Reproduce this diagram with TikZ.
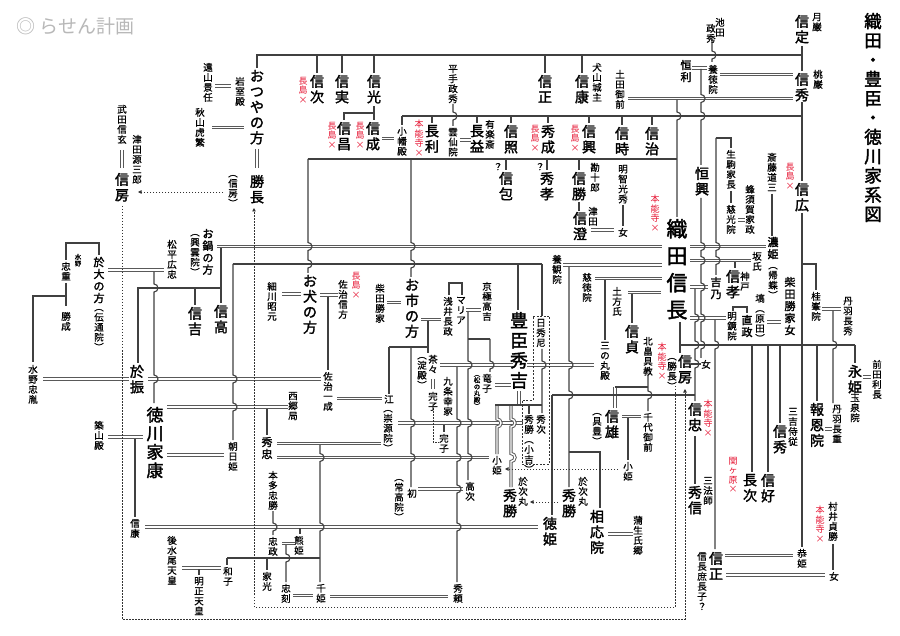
\documentclass[tikz,border=0pt]{standalone}
\usepackage{fontspec}
\newfontfamily\jpb{Noto Sans CJK JP}[FakeBold=2]
\newfontfamily\jps{Noto Sans CJK JP}[FakeBold=0.8]
\newfontfamily\jpr{Noto Sans CJK JP}
\usetikzlibrary{arrows.meta}
\definecolor{redc}{RGB}{230,20,50}
\makeatletter
\def\vt@loop#1{\ifx#1\@nil\else\hbox to 1em{\hss#1\hss}\expandafter\vt@loop\fi}
\newcommand\vtxt[1]{\vbox{\lineskiplimit=-\maxdimen\vt@loop#1\@nil}}
\makeatother
\newcommand\vnode[4][]{\node[#1] (#2) at (#3) {\vtxt{#4}};}
\newcommand\vhop[5][]{\draw[lnA,#1] (#2,#3) \foreach \hh in {#5}{ -- (#2,\hh-4) arc[start angle=90,end angle=-90,radius=4pt]} -- (#2,#4);}
\tikzset{
 vtA/.style={anchor=north,inner sep=0pt,outer sep=0pt},
 cT/.style={vtA,font=\jpb\fontsize{17.5}{19.3}\selectfont},
 cL1/.style={vtA,font=\jpb\fontsize{21}{27}\selectfont},
 cL2/.style={vtA,font=\jpb\fontsize{18}{20}\selectfont},
 cL3/.style={vtA,font=\jpb\fontsize{17}{18.5}\selectfont},
 cM/.style={vtA,font=\jpb\fontsize{14}{15.5}\selectfont},
 cMS/.style={vtA,font=\jpb\fontsize{11}{12}\selectfont},
 cS/.style={vtA,font=\jps\fontsize{9.5}{10}\selectfont},
 cXS/.style={vtA,font=\jps\fontsize{6.5}{6.5}\selectfont},
 cR/.style={vtA,text=redc,font=\jpr\fontsize{9}{9.5}\selectfont},
 lnA/.style={draw=black!75,line width=1.1pt},
 dbl/.style={draw=black!65,line width=0.95pt,double=white,double distance=1.4pt},
 dotl/.style={draw=black!80,line width=0.8pt,dash pattern=on 1.5pt off 1.5pt},
 tip/.style={-{Triangle[length=3.5pt,width=3.5pt]}},
}
\begin{document}
\begin{tikzpicture}[x=1pt,y=-1pt]
\fill[white] (0,0) rectangle (900,636);
\useasboundingbox (0,0) rectangle (900,636);
% ---------------- double lines ----------------
\draw[dbl] (257,149) -- (257,168);
\draw[dbl] (122,150) -- (122,168);
\draw[dbl] (215,86) -- (231,86);
\draw[dbl] (212,127.5) -- (244,127.5);
\draw[dbl] (692,68) -- (707,68);
\draw[dbl] (720,74.5) -- (793,74.5);
\draw[dbl] (628,98.5) -- (793,98.5);
\draw[dbl] (382,138.5) -- (394,138.5);
\draw[dbl] (460,140) -- (471,140);
\draw[dbl] (591,230) -- (614,230);
\draw[dbl] (738,220) -- (745,220);
\draw[dbl] (690,246.5) -- (766,246.5);
\draw[dbl] (690,260.5) -- (751,260.5);
\draw[dbl] (690,287) -- (708,287);
\draw[dbl] (690,318) -- (726,318);
\draw[dbl] (767,322) -- (781,322);
\draw[dbl] (822,309) -- (841,309);
\draw[dbl] (825,429) -- (832,429);
\draw[dbl] (863,377) -- (871,377);
\draw[dbl] (622,416.5) -- (641,416.5);
\draw[dbl] (725,555.5) -- (793,555.5);
\draw[dbl] (726,575) -- (825,575);
\draw[dbl] (628,292.5) -- (661,292.5);
\draw[dbl] (217,246.5) -- (662,246.5);
\draw[dbl] (563,265) -- (662,265);
\draw[dbl] (595,278.5) -- (662,278.5);
\draw[dbl] (608,534) -- (633,534);
\draw[dbl] (527,365) -- (594,365);
\draw[dbl] (440,365) -- (513,365);
\draw[dbl] (495,385) -- (511,385);
\draw[dbl] (519,391) -- (519,405);
\draw[dbl] (466,310) -- (481,310);
\draw[dbl] (387,302.5) -- (401,302.5);
\draw[dbl] (421,319.5) -- (441,319.5);
\draw[dbl] (398,423) -- (523,423);
\draw[dbl] (433,379) -- (433,389);
\draw[dbl] (337,398.5) -- (382,398.5);
\draw[dbl] (167,407) -- (288,407);
\draw[dbl] (167,455) -- (224,455);
\draw[dbl] (108,437) -- (143,437);
\draw[dbl] (277,443.5) -- (381,443.5);
\draw[dbl] (277,457.5) -- (489,457.5);
\draw[dbl] (282,543.5) -- (295,543.5);
\draw[dbl] (145,527) -- (538,527);
\draw[dbl] (293,595.5) -- (313,595.5);
\draw[dbl] (330,596.5) -- (448,596.5);
\draw[dbl] (182,568) -- (221,568);
\draw[dbl] (418,489) -- (463,489);
\draw[dbl] (108,270) -- (164,270);
\draw[dbl] (43,379) -- (129,379);
\draw[dbl] (148,379) -- (321,379);
\draw[dbl] (282,294) -- (301,294);
\draw[dbl] (320,295) -- (338,295);
\draw[dbl] (615,387) -- (615,408);
\vhop[dbl]{497}{405}{454}{423}
\vhop[dbl]{511}{405}{487}{423,457.5}
% ---------------- single lines ----------------
\draw[lnA] (257,68) -- (257,55) -- (802,55);
\foreach \xx in {317,342,374,545,582} {\draw[lnA] (\xx,55) -- (\xx,73);}
\draw[lnA] (802,46) -- (802,71);
\vhop{712}{40}{62}{55}
\vhop{701}{69}{165}{98.5,116}
\vhop{701}{198}{358}{246.5,260.5,287,318,345}
\draw[lnA] (802,102) -- (802,181);
\draw[lnA] (402,116) -- (802,116);
\foreach \xx/\yy in {402/125,432/123,477/123,511/123,548/123,589/123,622/125,652/125} {\draw[lnA] (\xx,116) -- (\xx,\yy);}
\vhop{453}{104}{126}{116}
\draw[lnA] (374,106) -- (374,120);
\draw[lnA] (344,120) -- (344,113) -- (374,113);
\vhop{677}{100}{217}{116}
\draw[lnA] (308,159) -- (677,159);
\vhop{308}{159}{273}{246.5,264}
\vhop{411}{159}{277}{246.5,264}
\foreach \xx in {506,547,579} {\draw[lnA] (\xx,159) -- (\xx,170);}
\draw[lnA] (579,202) -- (579,211);
\draw[lnA] (623,205) -- (623,226);
\draw[lnA] (731,148) -- (731,138) -- (716,138);
\vhop{716}{138}{275}{246.5,260.5}
\draw[lnA] (731,191) -- (731,203);
\draw[lnA] (772,194) -- (772,236);
\draw[lnA] (735,262) -- (735,268);
\vhop{715}{320}{549}{345}
\draw[lnA] (733,311) -- (733,307) -- (747,307) -- (747,313);
\draw[lnA] (802,213) -- (802,547);
\draw[lnA] (802,264) -- (816,264) -- (816,290);
\vhop{833}{311}{403}{345}
\draw[lnA] (680,322) -- (680,353);
\draw[lnA] (680,345) -- (855,345);
\foreach \xx/\yy in {752/472,768/472,780/423,817/401,855/363} {\draw[lnA] (\xx,345) -- (\xx,\yy);}
\vhop{695}{289}{401}{318,345,364}
\draw[lnA] (552,395) -- (695,395);
\draw[lnA] (552,395) -- (552,515);
\draw[lnA] (648,387) -- (615,387);
\vhop{648}{375}{411}{395}
\draw[lnA] (628,418) -- (628,460);
\draw[lnA] (691,364) -- (701,364);
\draw[lnA] (695,436) -- (695,484);
\draw[lnA] (833,544) -- (833,570);
\draw[lnA] (632,294) -- (632,323);
\draw[lnA] (605,280) -- (605,340);
\vhop{569}{267}{487}{365,395}
\draw[lnA] (569,452) -- (600,452) -- (600,508);
\vhop{233}{264}{440}{379,407}
\draw[lnA] (233,264) -- (542,264);
\draw[lnA] (518,264) -- (518,310);
\draw[lnA] (542,264) -- (542,316);
\vhop{457}{367}{582}{423,457.5,489,527}
\vhop{542}{349}{413}{365}
\draw[lnA] (495,405) -- (542,405);
\draw[lnA] (529,405) -- (529,414);
\vhop{468}{312}{480}{365,423,457.5}
\draw[lnA] (468,339) -- (490,339);
\vhop{490}{339}{372}{365}
\draw[lnA] (449,295) -- (449,283) -- (462,283) -- (462,295);
\draw[lnA] (428,321) -- (428,353);
\draw[lnA] (389,347) -- (428,347);
\draw[lnA] (389,347) -- (389,394);
\vhop{411}{347}{487}{423,457.5}
\draw[lnA] (444,425) -- (444,432);
\draw[lnA] (267,409) -- (267,435);
\draw[lnA] (135,439) -- (135,517);
\vhop{320}{445}{582}{457.5,527}
\draw[lnA] (227,558) -- (320,558);
\draw[lnA] (227,558) -- (227,565);
\draw[lnA] (267,558) -- (267,570);
\vhop{273}{511}{535}{527}
\vhop{286}{545}{582}{558}
\draw[lnA] (300,528) -- (300,534);
\draw[lnA] (199,569) -- (199,575);
\vhop{154}{272}{403}{288,379}
\draw[lnA] (66,260) -- (66,243) -- (99,243) -- (99,255);
\draw[lnA] (66,283) -- (66,306);
\draw[lnA] (66,296) -- (33,296) -- (33,362);
\draw[lnA] (221,248) -- (221,303);
\draw[lnA] (138,363) -- (138,288) -- (221,288);
\draw[lnA] (195,288) -- (195,305);
\draw[lnA] (328,297) -- (328,370);
% ---------------- dotted ----------------
\draw[dotl,tip] (675,386) -- (675,607) -- (254,607) -- (254,208);
\draw[dotl,tip] (122,206) -- (122,619) -- (685,619) -- (685,389);
\draw[dotl,tip] (223,192) -- (138,192);
\draw[dotl,tip] (618,469) -- (505,469);
\draw[dotl,tip] (558,502) -- (530,502);
\draw[dotl] (433,408) -- (433,442) -- (439,442);
\draw[draw=black!80,line width=0.8pt,dash pattern=on 2pt off 1.5pt] (533,316) -- (549,316) -- (549,464) -- (522,464) -- (522,400) -- (533,400) -- cycle;
% ---------------- texts ----------------
\vnode[cT]{title}{873,13}{織田・豊臣・徳川家系図}
\node[anchor=west,inner sep=0pt,text=black!28,font=\jpr\fontsize{19}{19}\selectfont] (wm) at (16,26) {◎ らせん計画};
\vnode[cM]{sadanobu}{802,15}{信定}
\vnode[cS]{getsugan}{817,13}{月巌}
\vnode[cM]{nobuhide}{802,73}{信秀}
\vnode[cS]{tougan}{818,70}{桃巌}
\vnode[cS]{ikeda}{720,18}{池田}
\vnode[cS]{masahide}{711,24}{政秀}
\vnode[cMS]{tsuneto}{686,60}{恒利}
\vnode[cS]{youtoku}{713,65}{養徳院}
\vnode[cS]{dota}{620,70}{土田御前}
\vnode[cS]{inuyama}{597,63}{犬山城主}
\vnode[cM]{nobuyasu}{582,75}{信康}
\vnode[cM]{nobumasa}{545,75}{信正}
\vnode[cS]{hirate}{453,65}{平手政秀}
\vnode[cM]{nobumitsu}{374,75}{信光}
\vnode[cM]{nobuzane}{342,75}{信実}
\vnode[cM]{nobutsugu}{317,75}{信次}
\vnode[cR]{r1}{303,77}{長島×}
\vnode[cM]{otsuya}{257,70}{おつやの方}
\vnode[cM]{katsunaga}{257,175}{勝長}
\vnode[cS]{iwamuro}{240,77}{岩室殿}
\vnode[cS]{tooyama}{208,63}{遠山景任}
\vnode[cS]{akiyama}{200,108}{秋山虎繁}
\vnode[cS]{shingen}{122,105}{武田信玄}
\vnode[cM]{nobufusaL}{122,173}{信房}
\vnode[cS]{tsudagen}{137,135}{津田源三郎}
\vnode[cS]{nobufusaP}{233,175}{︵信房︶}
\vnode[cM]{nobumasa2}{344,122}{信昌}
\vnode[cM]{nobunari}{373,122}{信成}
\vnode[cR]{r2}{332,122}{長島×}
\vnode[cR]{r3}{360,122}{長島×}
\vnode[cS]{obata}{402,127}{小幡殿}
\vnode[cR]{r4}{419,120}{本能寺×}
\vnode[cM]{nagatoshi}{432,125}{長利}
\vnode[cS]{unsen}{453,128}{雲仙院}
\vnode[cM]{nagamasu}{477,125}{長益}
\vnode[cS]{uraku}{490,120}{有楽斎}
\vnode[cM]{nobuteru}{511,125}{信照}
\vnode[cR]{r5}{535,125}{長島×}
\vnode[cM]{hidenari}{548,125}{秀成}
\vnode[cR]{r6}{575,125}{長島×}
\vnode[cM]{nobuoki}{589,125}{信興}
\vnode[cM]{nobutoki}{622,127}{信時}
\vnode[cM]{nobuharu}{652,127}{信治}
\vnode[cS]{q1}{498,163}{？}
\vnode[cM]{nobukane}{506,172}{信包}
\vnode[cS]{q2}{540,163}{？}
\vnode[cM]{hidetaka}{547,172}{秀孝}
\vnode[cM]{nobukatsuA}{579,172}{信勝}
\vnode[cS]{kanjuro}{595,163}{勘十郎}
\vnode[cM]{nobuzumi}{580,212}{信澄}
\vnode[cS]{tsuda}{593,207}{津田}
\vnode[cS]{onnaA}{623,228}{女}
\vnode[cS]{akechi}{623,165}{明智光秀}
\vnode[cR]{r7}{655,195}{本能寺×}
\vnode[cM]{tsuneoki}{702,167}{恒興}
\vnode[cS]{ikoma}{731,150}{生駒家長}
\vnode[cS]{jiko}{731,205}{慈光院}
\vnode[cS]{hachisuka}{750,185}{蜂須賀家政}
\vnode[cS]{dosan}{772,153}{斎藤道三}
\vnode[cR]{r8}{790,163}{長島×}
\vnode[cM]{nobuhiro}{802,183}{信広}
\vnode[cL1]{nobunaga}{677,219}{織田信長}
\vnode[cMS]{nouhime}{773,237}{濃姫}
\vnode[cS]{kicho}{773,267}{︵帰蝶︶}
\vnode[cS]{banshi}{757,252}{坂氏}
\vnode[cM]{nobutaka}{733,270}{信孝}
\vnode[cS]{kanbe}{745,272}{神戸}
\vnode[cMS]{kitsuno}{716,277}{吉乃}
\vnode[cS]{ban}{760,294}{塙︵原田︶}
\vnode[cS]{meikyo}{732,312}{明鏡院}
\vnode[cMS]{naomasa}{747,315}{直政}
\vnode[cMS]{shibatajo}{790,277}{柴田勝家女}
\vnode[cS]{keiho}{816,292}{桂峯院}
\vnode[cS]{niwa}{848,297}{丹羽長秀}
\vnode[cM]{eihime}{855,365}{永姫}
\vnode[cS]{gyokusen}{855,394}{玉泉院}
\vnode[cS]{maeda}{877,360}{前田利長}
\vnode[cM]{houon}{817,403}{報恩院}
\vnode[cS]{niwa2}{837,405}{丹羽長重}
\vnode[cM]{nobuhide2}{780,425}{信秀}
\vnode[cS]{miyoshi}{793,408}{三吉侍従}
\vnode[cM]{nagatsugu}{750,474}{長次}
\vnode[cM]{nobuyoshi}{768,474}{信好}
\vnode[cR]{r9}{733,457}{関ヶ原×}
\vnode[cS]{murai}{833,502}{村井貞勝}
\vnode[cR]{r10}{820,506}{本能寺×}
\vnode[cS]{onnaB}{834,572}{女}
\vnode[cM]{nobumasa3}{716,552}{信正}
\vnode[cS]{shochoshi}{702,552}{信長庶長子？}
\vnode[cS]{kyohime}{802,549}{恭姫}
\vnode[cM]{nobutada}{695,403}{信忠}
\vnode[cR]{r11}{708,400}{本能寺×}
\vnode[cM]{hidenobu}{695,486}{秀信}
\vnode[cS]{sanboshi}{708,477}{三法師}
\vnode[cM]{nobufusaR}{685,355}{信房}
\vnode[cS]{katsunagaP}{672,358}{︵勝長︶}
\vnode[cS]{onnaC}{706,360}{女}
\vnode[cR]{r12}{662,343}{本能寺×}
\vnode[cS]{kitabatake}{648,337}{北畠具教}
\vnode[cS]{chiyo}{648,413}{千代御前}
\vnode[cM]{nobukatsuB}{612,410}{信雄}
\vnode[cS]{tomotoyo}{597,413}{︵具豊︶}
\vnode[cS]{kohimeR}{628,462}{小姫}
\vnode[cM]{soou}{597,510}{相応院}
\vnode[cS]{gamou}{638,516}{蒲生氏郷}
\vnode[cM]{nobusada}{632,325}{信貞}
\vnode[cS]{hijikata}{617,287}{土方氏}
\vnode[cS]{sannomaru}{605,342}{三の丸殿}
\vnode[cS]{jitoku}{587,273}{慈徳院}
\vnode[cS]{youkan}{557,255}{養観院}
\vnode[cL2]{hideyoshi}{519,312}{豊臣秀吉}
\vnode[cS]{nisshu}{541,319}{日秀尼}
\vnode[cS]{kyogoku}{487,282}{京極高吉}
\vnode[cS]{maria}{461,297}{マリア}
\vnode[cS]{azai}{448,297}{浅井長政}
\vnode[cS]{shibata}{380,284}{柴田勝家}
\vnode[cM]{oichi}{412,279}{お市の方}
\vnode[cS]{tatsuko}{487,374}{竜子}
\vnode[cXS]{matsunomaru}{477,375}{︵松の丸殿︶}
\vnode[cS]{chacha}{433,355}{茶々}
\vnode[cS]{yodo}{422,357}{︵淀殿︶}
\vnode[cS]{sadakoA}{433,392}{完子}
\vnode[cS]{kujo}{448,377}{九条幸家}
\vnode[cS]{sadakoB}{444,434}{完子}
\vnode[cS]{gou}{389,395}{江}
\vnode[cS]{sugen}{388,410}{︵崇源院︶}
\vnode[cS]{hatsu}{412,489}{初}
\vnode[cS]{jokou}{399,479}{︵常高院︶}
\vnode[cS]{takatsugu}{470,482}{高次}
\vnode[cS]{hidetsugu}{541,415}{秀次}
\vnode[cS]{hidekatsuK}{529,415}{秀勝︵小吉︶}
\vnode[cS]{kohimeL}{497,456}{小姫}
\vnode[cM]{hidekatsuL}{510,489}{秀勝}
\vnode[cS]{otsugiL}{523,477}{於次丸}
\vnode[cM]{hidekatsuR}{569,489}{秀勝}
\vnode[cS]{otsugiR}{583,477}{於次丸}
\vnode[cM]{tokuhime}{550,517}{徳姫}
\vnode[cS]{hideyori}{458,584}{秀頼}
\vnode[cS]{senhime}{321,584}{千姫}
\vnode[cS]{tadatoki}{286,584}{忠刻}
\vnode[cS]{iemitsu}{267,572}{家光}
\vnode[cS]{kazuko}{228,567}{和子}
\vnode[cS]{meisho}{199,577}{明正天皇}
\vnode[cS]{gomizuno}{172,536}{後水尾天皇}
\vnode[cS]{tadamasa}{273,537}{忠政}
\vnode[cS]{kumahime}{299,536}{熊姫}
\vnode[cS]{honda}{273,471}{本多忠勝}
\vnode[cMS]{hidetada}{267,437}{秀忠}
\vnode[cS]{asahi}{233,442}{朝日姫}
\vnode[cS]{saigo}{293,392}{西郷局}
\vnode[cS]{nobuyasuT}{135,519}{信康}
\vnode[cS]{tsukiyama}{99,421}{築山殿}
\vnode[cL3]{ieyasu}{155,407}{徳川家康}
\vnode[cM]{oinu}{310,275}{お犬の方}
\vnode[cS]{sajinobu}{343,280}{佐治信方}
\vnode[cR]{r13}{356,272}{長島×}
\vnode[cS]{sajikazu}{328,372}{佐治一成}
\vnode[cS]{hosokawa}{272,282}{細川昭元}
\vnode[cM]{ofuri}{137,365}{於振}
\vnode[cS]{mizunotada}{33,365}{水野忠胤}
\vnode[cS]{katsunari}{66,312}{勝成}
\vnode[cS]{tadashige}{66,262}{忠重}
\vnode[cXS]{mizuno}{78,254}{水野}
\vnode[cMS]{odai}{99,257}{於大の方}
\vnode[cS]{dentsu}{99,309}{︵伝通院︶}
\vnode[cS]{hirotada}{172,240}{松平広忠}
\vnode[cMS]{onabe}{208,229}{お鍋の方}
\vnode[cS]{kouun}{195,234}{︵興雲院︶}
\vnode[cM]{nobuyoshiA}{195,307}{信吉}
\vnode[cM]{nobutakaA}{221,305}{信高}
\end{tikzpicture}
\end{document}
